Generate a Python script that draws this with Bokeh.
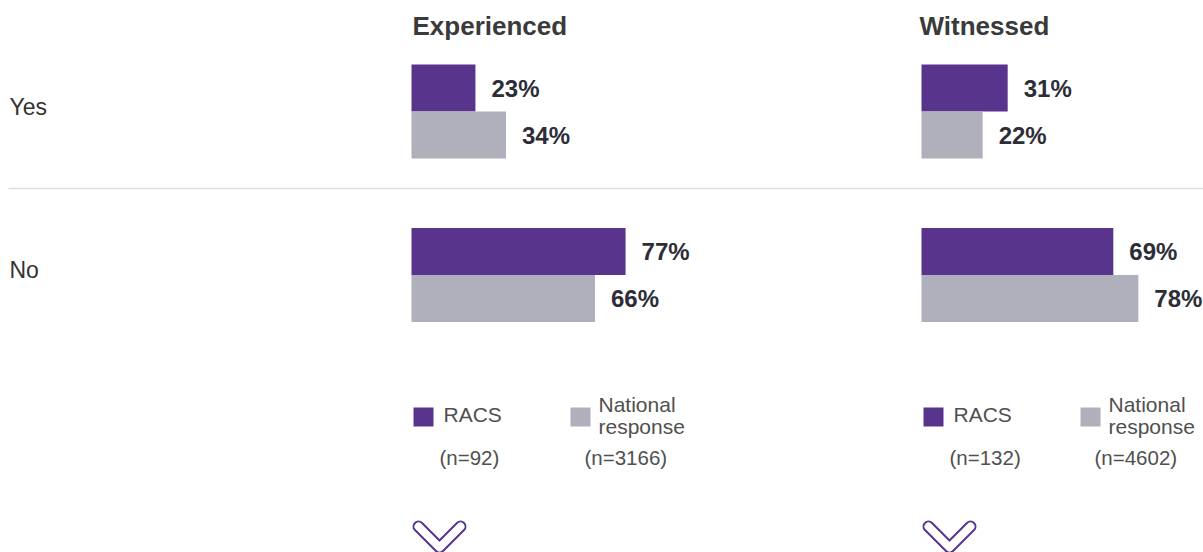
from bokeh.plotting import figure
from bokeh.models import Range1d, ColumnDataSource
from bokeh.core.properties import value
from bokeh.embed import file_html
from bokeh.resources import INLINE

# ---------------- data ----------------
rows = ["Yes", "No"]
panels = ["Experienced", "Witnessed"]
racs_experienced = [23, 77]
national_experienced = [34, 66]
racs_witnessed = [31, 69]
national_witnessed = [22, 78]
series_names = ["RACS", "National\nresponse"]
n_experienced = ["(n=92)", "(n=3166)"]
n_witnessed = ["(n=132)", "(n=4602)"]

PURPLE = "#59348d"
GREY = "#b0afbc"
FONT = "Liberation Sans"

W, H = 1203, 552
X0, X1 = 0, W
Y0, Y1 = 0, H

PX_PER_PCT = 2.78
ROW_PX = 163.5
ROW0_Y = 111
PANEL_X = [411, 921]

p = figure(width=W, height=H, output_backend="svg", toolbar_location=None,
           min_border=0, x_range=Range1d(X0, X1), y_range=Range1d(Y1, Y0))
p.axis.visible = False
p.grid.visible = False
p.outline_line_color = None
p.background_fill_color = "white"
p.border_fill_color = "white"

p.extra_y_ranges = {"rows": Range1d((Y1 - ROW0_Y) / ROW_PX, (Y0 - ROW0_Y) / ROW_PX)}
p.extra_x_ranges = {
    "exp": Range1d((X0 - PANEL_X[0]) / PX_PER_PCT, (X1 - PANEL_X[0]) / PX_PER_PCT),
    "wit": Range1d((X0 - PANEL_X[1]) / PX_PER_PCT, (X1 - PANEL_X[1]) / PX_PER_PCT),
}

BAR_H = 47 / ROW_PX
OFF = BAR_H / 2
row_idx = list(range(len(rows)))

# separator line between rows
p.segment(x0=[8], x1=[X1], y0=[188], y1=[188], line_color="#dedede", line_width=1.5)

# row labels
p.text(x=[9, 9], y=row_idx, text=rows, y_range_name="rows", y_offset=-5,
       text_font=value(FONT), text_font_size="23px", text_color="#333333",
       text_baseline="middle", text_align="left")

data = {"exp": (racs_experienced, national_experienced),
        "wit": (racs_witnessed, national_witnessed)}

for rn, (racs, nat) in data.items():
    src = ColumnDataSource(dict(
        y_r=[i - OFF for i in row_idx], y_n=[i + OFF for i in row_idx],
        racs=racs, nat=nat,
        lr=[f"{v}%" for v in racs], ln=[f"{v}%" for v in nat]))
    p.hbar(y="y_r", left=0, right="racs", height=BAR_H, source=src,
           fill_color=PURPLE, line_color=None, x_range_name=rn, y_range_name="rows")
    p.hbar(y="y_n", left=0, right="nat", height=BAR_H, source=src,
           fill_color=GREY, line_color=None, x_range_name=rn, y_range_name="rows")
    for xcol, ycol, tcol in (("racs", "y_r", "lr"), ("nat", "y_n", "ln")):
        p.text(x=xcol, y=ycol, text=tcol, source=src, x_offset=16,
               x_range_name=rn, y_range_name="rows",
               text_font=value(FONT), text_font_style="bold", text_font_size="24px",
               text_color="#2d2d38", text_baseline="middle", text_align="left")

# panel titles
p.text(x=[412, 919], y=[25, 25], text=panels, text_font=value(FONT),
       text_font_style="bold", text_font_size="26px", text_color="#3a3a3a",
       text_baseline="middle", text_align="left")

# legends
for k, ns in enumerate((n_experienced, n_witnessed)):
    dx = 510 * k
    p.rect(x=[423 + dx, 580 + dx], y=[416.5, 416.5], width=20, height=19,
           fill_color=[PURPLE, GREY], line_color=None)
    p.text(x=[443 + dx], y=[414], text=[series_names[0]], text_font=value(FONT),
           text_font_size="21px", text_color="#505050", text_baseline="middle")
    p.text(x=[598 + dx, 598 + dx], y=[404, 426], text=series_names[1].split("\n"),
           text_font=value(FONT), text_font_size="21px", text_color="#505050",
           text_baseline="middle")
    p.text(x=[439 + dx, 584 + dx], y=[457, 457], text=ns, text_font=value(FONT),
           text_font_size="20.5px", text_color="#505050", text_baseline="middle")
    # chevron (outlined)
    cx = 439 + dx
    xs = [[cx - 21, cx, cx + 21]]
    ys = [[526, 547, 526]]
    p.multi_line(xs=xs, ys=ys, line_color=PURPLE, line_width=12,
                 line_cap="round", line_join="round")
    p.multi_line(xs=xs, ys=ys, line_color="white", line_width=8,
                 line_cap="round", line_join="round")

open("out.html", "w").write(file_html(p, INLINE))
